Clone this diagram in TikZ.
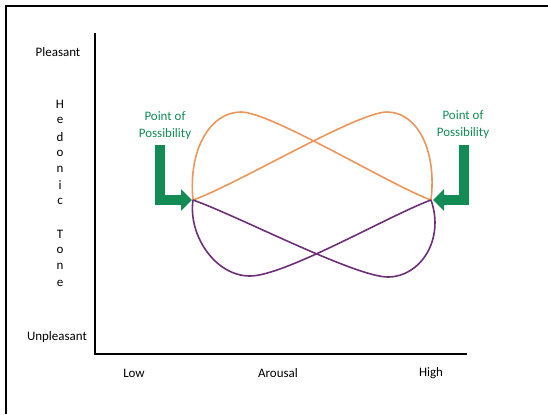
\documentclass[tikz,border=0pt]{standalone}
\usepackage{fontspec}
\setmainfont{Carlito}
\usetikzlibrary{arrows.meta}
\definecolor{hedorange}{RGB}{236,150,92}
\definecolor{hedpurple}{RGB}{108,48,118}
\definecolor{posgreen}{RGB}{18,140,84}

\begin{document}
\begin{tikzpicture}
  [x=1bp,y=-1bp,every node/.style={font=\fontsize{13}{17}\selectfont,inner sep=0pt},
   poss/.style={text=posgreen,align=center},
   pointer/.style={posgreen,line width=10bp,line join=miter,-{Triangle[length=11bp,width=21bp]}},
   loop/.style={line width=1.6bp},
   axis/.style={line width=1.8bp}]
  \useasboundingbox (0,0) rectangle (548,414);
  \draw[line width=1.6bp] (6,414) -- (6,6) -- (548,6);

  % axes
  \coordinate (ytop) at (95,33);
  \coordinate (orig) at (95,354);
  \coordinate (xend) at (467,354);
  \draw[axis] (ytop) -- (orig) -- (xend);

  \node (pl) at (58,52) {Pleasant};
  \node (unpl) at (57,337) {Unpleasant};
  \node (low) at (134,373) {Low};
  \node (arou) at (278,373) {Arousal};
  \node (high) at (431,373) {High};
  \foreach \ch [count=\i from 0] in {H,e,d,o,n,i,c}
    \node (hed\i) at (60,104+16.3*\i) {\ch};
  \foreach \ch [count=\i from 0] in {T,o,n,e}
    \node (tone\i) at (60,234+16.3*\i) {\ch};

  % the two figure eights
  \coordinate (lp) at (193,200);
  \coordinate (rp) at (431,200);
  \coordinate (otl) at (241,112);
  \coordinate (otr) at (387,112);
  \coordinate (pbl) at (250,276);
  \coordinate (pbr) at (388,277);

  \draw[loop,hedorange] (lp) .. controls (188,150) and (210,112) .. (otl)
    .. controls (271,112) and (390,185) .. (rp);
  \draw[loop,hedorange] (rp) .. controls (437,150) and (417,112) .. (otr)
    .. controls (357,112) and (236,185) .. (lp);

  \draw[loop,hedpurple] (lp) .. controls (188,235) and (215,276) .. (pbl)
    .. controls (285,276) and (390,215) .. (rp);
  \draw[loop,hedpurple] (rp) .. controls (445,240) and (420,277) .. (pbr)
    .. controls (355,277) and (236,215) .. (lp);

  % points of possibility
  \node[poss] (lposs) at (165,126) {Point of\\Possibility};
  \node[poss] (rposs) at (463,125) {Point of\\Possibility};
  \coordinate (lbar) at (160,145);
  \coordinate (ltip) at (192,200);
  \coordinate (rbar) at (463.5,145);
  \coordinate (rtip) at (433,200);
  \draw[pointer] (lbar) |- (ltip);
  \draw[pointer] (rbar) |- (rtip);
\end{tikzpicture}
\end{document}
